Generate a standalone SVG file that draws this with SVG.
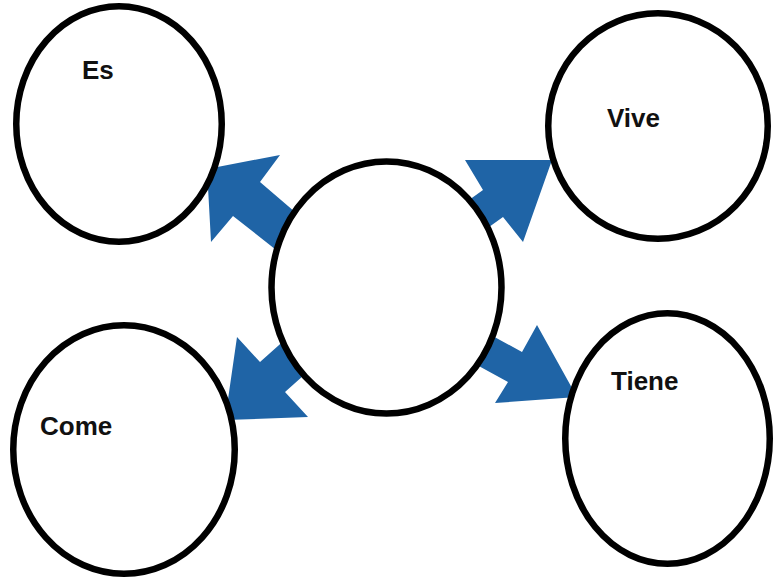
<svg xmlns="http://www.w3.org/2000/svg" width="774" height="579" viewBox="0 0 774 579">
  <style>
    .arrow { fill: #1f64a6; stroke: none; }
    .node { fill: #ffffff; stroke: #000000; stroke-width: 6.5; }
    .label { font-family: "Liberation Sans", Arial, sans-serif; font-weight: bold; font-size: 26px; fill: #111111; }
  </style>
  <rect x="0" y="0" width="774" height="579" fill="#ffffff"/>
  <g id="connectors">
    <polygon class="arrow" points="207,169 280,155 260,182 323,236 299,268 233,216 211,242"/>
    <polygon class="arrow" points="465,160 552,160 523,242 503,217 454,252 434,225 483,190"/>
    <polygon class="arrow" points="225,420 237,337 260,362 297,329 322,359 285,392 308,417"/>
    <polygon class="arrow" points="537,325 577,397 495,403 508,382 455,353 469,323 522,352"/>
  </g>
  <g id="node-es">
    <ellipse class="node" cx="119" cy="124" rx="102.75" ry="117.75"/>
    <text class="label" x="82" y="79">Es</text>
  </g>
  <g id="node-vive">
    <ellipse class="node" cx="658" cy="126" rx="109.75" ry="112.75"/>
    <text class="label" x="607" y="127">Vive</text>
  </g>
  <g id="node-come">
    <ellipse class="node" cx="124" cy="449.5" rx="110.75" ry="124.25"/>
    <text class="label" x="40" y="435">Come</text>
  </g>
  <g id="node-tiene">
    <ellipse class="node" cx="667.5" cy="438.5" rx="102.25" ry="125.25"/>
    <text class="label" x="611" y="390">Tiene</text>
  </g>
  <g id="node-center">
    <ellipse class="node" cx="386.5" cy="287.5" rx="115" ry="126"/>
  </g>
</svg>
